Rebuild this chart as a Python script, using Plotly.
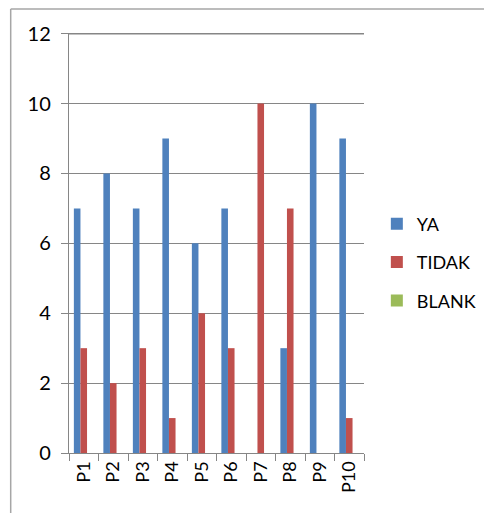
import plotly.graph_objects as go

categories = ["P1", "P2", "P3", "P4", "P5", "P6", "P7", "P8", "P9", "P10"]
ya = [7, 8, 7, 9, 6, 7, 0, 3, 10, 9]
tidak = [3, 2, 3, 1, 4, 3, 10, 7, 0, 1]
blank = [0, 0, 0, 0, 0, 0, 0, 0, 0, 0]
y_ticks = [0, 2, 4, 6, 8, 10, 12]

series = [("YA", ya, "#4F81BD"), ("TIDAK", tidak, "#C0504D"), ("BLANK", blank, "#9BBB59")]

fig = go.Figure()
for name, vals, col in series:
    fig.add_trace(go.Bar(x=categories, y=vals, name=name, marker_color=col,
                         marker_line_width=0, legendgroup=name))

font = "Lato, 'Liberation Sans', Arial, sans-serif"
W, H = 484, 505
L, R, T, B = 61, 127, 25, 60
pw, ph = W - L - R, H - T - B
fig.update_layout(
    width=W, height=H,
    margin=dict(l=L, r=R, t=T, b=B),
    paper_bgcolor="white", plot_bgcolor="white",
    barmode="group", bargap=0.33, bargroupgap=0,
    font=dict(family=font, size=18, color="black"),
    legend=dict(x=1.04, y=0.4536, xanchor="left", yanchor="middle",
                font=dict(size=18), tracegroupgap=12, traceorder="grouped",
                itemwidth=30),
    showlegend=True,
)
fig.update_yaxes(range=[0, 12.02], tickvals=y_ticks, showgrid=True, gridcolor="#868686",
                 gridwidth=1.4, showline=True, linecolor="#868686", linewidth=1.4,
                 ticks="outside", ticklen=7, tickcolor="#868686", tickwidth=1.4,
                 zeroline=False, tickfont=dict(size=20), ticklabelstandoff=6)
fig.update_xaxes(tickangle=-90, showline=True, linecolor="#868686", linewidth=1.4,
                 ticks="outside", tickson="boundaries", ticklen=7, tickcolor="#868686",
                 tickwidth=1.4, tickfont=dict(size=18))

# top gridline at the maximum tick
fig.add_shape(type="line", xref="paper", yref="y", x0=0, x1=1, y0=y_ticks[-1], y1=y_ticks[-1],
              line=dict(color="#868686", width=1.4), layer="below")

# chart frame (top and left edges visible)
fx = (2.5 - L) / pw
fy = (ph + T - 1) / ph
fig.add_shape(type="line", xref="paper", yref="paper", x0=fx, x1=2.0, y0=fy, y1=fy,
              line=dict(color="#A6A6A6", width=1.5))
fig.add_shape(type="line", xref="paper", yref="paper", x0=fx, x1=fx, y0=fy, y1=-0.5,
              line=dict(color="#A6A6A6", width=1.5))

fig.write_html("out.html")
